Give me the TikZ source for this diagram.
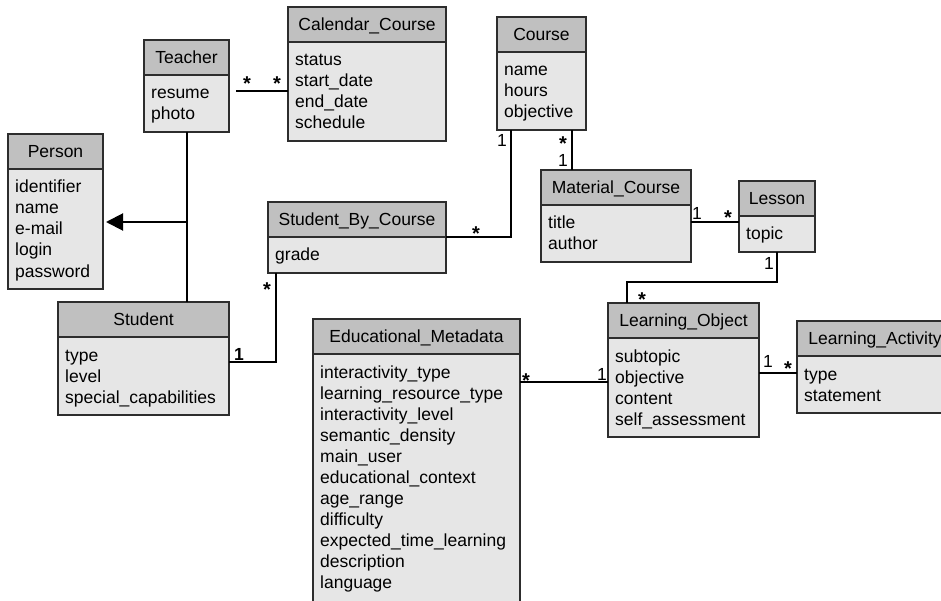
\documentclass[tikz,border=0pt]{standalone}
\usepackage{fontspec}
\setmainfont{Liberation Sans}
\usetikzlibrary{arrows.meta,calc}

\definecolor{headgray}{RGB}{192,192,192}
\definecolor{bodygray}{RGB}{230,230,230}
\definecolor{edgegray}{RGB}{45,45,45}

\tikzset{
	classhead/.style={draw=edgegray, fill=headgray, line width=1.2pt, minimum height=35pt,
		inner sep=0pt, outer sep=0pt, text height=12.5pt, text depth=0pt, anchor=north west},
	classbody/.style={draw=edgegray, fill=bodygray, line width=1.2pt,
		inner sep=0pt, outer sep=0pt, anchor=north west},
	attr/.style={inner sep=0pt, anchor=base west},
	link/.style={line width=2pt, black},
	mult/.style={inner sep=0pt, anchor=base},
	star/.style={mult, font=\fontsize{20}{21}\selectfont\bfseries},
}

% #1 name, #2 top left, #3 width, #4 title, #5 number of attributes, #6 attributes
\newcommand{\umlclass}[6]{
	\node[classhead, minimum width=#3pt] (#1) at (#2) {#4};
	\node[classbody, minimum width=#3pt, minimum height={21*#5+15}] (#1-body) at (#1.south west) {};
	\foreach \attr [count=\i] in {#6}
		\node[attr] (#1-\i) at ($(#1.south west)+(7,{24+21*(\i-1)})$) {\attr};
}

\begin{document}
\begin{tikzpicture}[x=1pt,y=-1pt,font=\fontsize{17.5}{21}\selectfont]

				\useasboundingbox (0,0) rectangle (941,601);
				\clip (0,0) rectangle (941,601);

				% classes
				\umlclass{teacher}{144,40}{85}{Teacher}{2}{resume,photo}
				\umlclass{calendar}{288,7}{158}{Calendar\_Course}{4}{status,start\_date,end\_date,schedule}
				\umlclass{course}{497,17}{89}{Course}{3}{name,hours,objective}
				\umlclass{person}{8,134}{95}{Person}{5}{identifier,name,e-mail,login,password}
				\umlclass{sbc}{268,202}{178}{Student\_By\_Course}{1}{grade}
				\umlclass{material}{541,170}{150}{Material\_Course}{2}{title,author}
				\umlclass{lesson}{739,181}{76}{Lesson}{1}{topic}
				\umlclass{student}{58,302}{171}{Student}{3}{type,level,special\_capabilities}
				\umlclass{lo}{608,303}{151}{Learning\_Object}{4}{subtopic,objective,content,self\_assessment}
				\umlclass{la}{797,321}{156}{Learning\_Activity}{2}{type,statement}
				\umlclass{em}{313,319}{207}{Educational\_Metadata}{11.3}{interactivity\_type,learning\_resource\_type,interactivity\_level,semantic\_density,main\_user,educational\_context,age\_range,difficulty,expected\_time\_learning,description,language}

				% inheritance
				\coordinate (inh) at (teacher-body.south |- 0,222);
				\draw[link] (teacher-body.south) -- (teacher-body.south |- student.north);
				\draw[link,-{Triangle[length=17pt,width=17pt]}] (inh) -- ($(person-body.east |- 0,222)+(3,0)$);

				% associations
				\draw[link] ($(teacher-body.east |- 0,91)+(7,0)$) -- (calendar-body.west |- 0,91);
				\draw[link] ($(course-body.south west)+(14,0)$) |- (sbc.south east);
				\draw[link] ($(course-body.south west)+(75,0)$) coordinate (cm) -- (cm |- material.north);
				\draw[link] ($(sbc-body.south west)+(8,0)$) |- (student-body.east |- 0,362);
				\draw[link] (material-body.east |- 0,222) -- (lesson-body.west |- 0,222);
				\draw[link] (lesson-body.south) -- ++(0,30) -| ($(lo.north west)+(19,0)$);
				\draw[link] (lo-body.east |- 0,373) -- (la-body.west |- 0,373);
				\draw[link] (em-body.east |- 0,382) -- (lo-body.west |- 0,382);

				% multiplicities
				\node[star] (m1) at (247,91) {*};
				\node[star] (m2) at (277,91) {*};
				\node[mult] (m3) at (502,147) {1};
				\node[star] (m4) at (476,241) {*};
				\node[star] (m5) at (563,151) {*};
				\node[mult] (m6) at (563,167) {1};
				\node[star] (m7) at (267,296) {*};
				\node[mult] (m8) at (239,360) {\textbf{1}};
				\node[mult] (m9) at (697,220) {1};
				\node[star] (m10) at (728,225) {*};
				\node[mult] (m11) at (769,270) {1};
				\node[star] (m12) at (642,306) {*};
				\node[mult] (m13) at (768,367) {1};
				\node[star] (m14) at (788,375) {*};
				\node[star] (m15) at (526,387) {*};
				\node[mult] (m16) at (602,380) {1};

\end{tikzpicture}
\end{document}
